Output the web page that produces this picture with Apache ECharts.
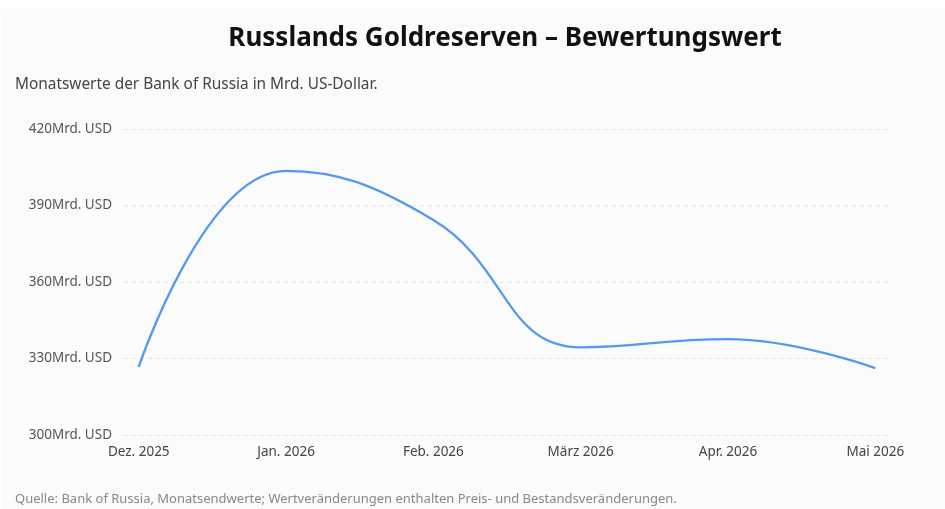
<!DOCTYPE html>
<html><head><meta charset="utf-8">
<script src="https://cdn.jsdelivr.net/npm/echarts@6/dist/echarts.min.js"></script>
<style>html,body{margin:0;padding:0;background:#fff}#c{width:945px;height:509px}</style>
</head><body><div id="c"></div>
<script>
var months = ['Dez. 2025','Jan. 2026','Feb. 2026','März 2026','Apr. 2026','Mai 2026'];
var reserves = [326.7, 403.6, 384.3, 334.4, 337.6, 326.2];
var yTicks = [300, 330, 360, 390, 420];

var chart = echarts.init(document.getElementById('c'));
var FONT = 'Noto Sans';
chart.setOption({
  backgroundColor: '#ffffff',
  textStyle: {fontFamily: FONT},
  graphic: [{type: 'rect', z: -10, silent: true, shape: {x: 1, y: 9, width: 944, height: 500}, style: {fill: '#fbfbfb'}}],
  title: [
    {text: 'Russlands Goldreserven – Bewertungswert', left: 500, top: 21, textAlign: 'center',
     textStyle: {fontFamily: FONT, fontSize: 26, fontWeight: 'bold', color: '#111'}},
    {text: 'Monatswerte der Bank of Russia in Mrd. US-Dollar.', left: 10, top: 72,
     textStyle: {fontFamily: FONT, fontSize: 15.4, fontWeight: 'normal', color: '#444'}},
    {text: 'Quelle: Bank of Russia, Monatsendwerte; Wertveränderungen enthalten Preis- und Bestandsveränderungen.', left: 10, top: 488,
     textStyle: {fontFamily: FONT, fontSize: 13, fontWeight: 'normal', color: '#888'}}
  ],
  grid: {left: 124, right: 55, top: 129, bottom: 74},
  xAxis: {
    type: 'value', min: -0.1, max: 5.1,
    axisLine: {show: false}, axisTick: {show: false}, splitLine: {show: false},
    axisLabel: {margin: 10, fontSize: 13.5, color: '#444', fontFamily: FONT,
      showMinLabel: false, showMaxLabel: false,
      formatter: function (v) { return Number.isInteger(v) ? months[v] : ''; }}
  },
  yAxis: {
    type: 'value', min: yTicks[0], max: yTicks[yTicks.length - 1], interval: 30,
    axisLine: {show: false}, axisTick: {show: false},
    splitLine: {lineStyle: {color: '#e4e4e4', type: [4, 4]}},
    axisLabel: {margin: 12, fontSize: 13.5, color: '#555', fontFamily: FONT, formatter: '{value}Mrd. USD'}
  },
  series: [{
    type: 'line', smooth: 0.45, showSymbol: false,
    data: reserves.map(function (v, i) { return [i, v]; }),
    lineStyle: {color: '#5599ee', width: 2.3}
  }],
  animation: false
});
</script></body></html>
